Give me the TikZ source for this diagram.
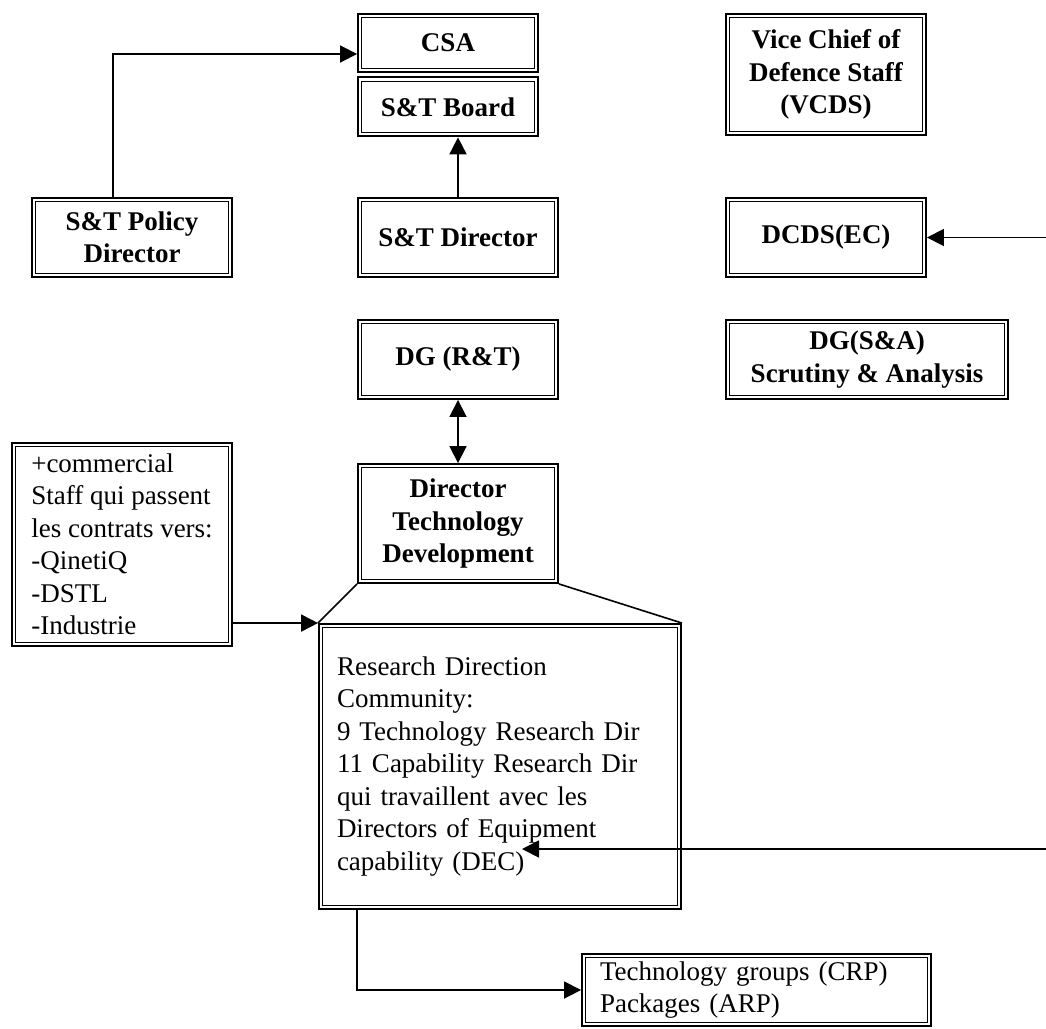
\documentclass[tikz,border=0pt]{standalone}
\usepackage{fontspec}
\setmainfont{Liberation Serif}
\usetikzlibrary{arrows.meta,positioning}

\begin{document}
\begin{tikzpicture}[
                x=1pt, y=-1pt,
                font=\fontsize{27}{32.5}\selectfont,
                frame/.style={
                        draw, line width=1.9pt,
                        path picture={
                                \draw[line width=0.9pt]
                                ([shift={(3.6pt,-3.6pt)}]path picture bounding box.north west)
                                rectangle ([shift={(-3.6pt,3.6pt)}]path picture bounding box.south east);
                            }
                    },
                unit/.style={
                        frame, align=center, inner sep=3pt,
                        font=\fontsize{27}{32.5}\selectfont\bfseries
                    },
                note/.style={
                        frame, align=left, inner xsep=17pt, inner ysep=3pt
                    },
                arr/.style={-{Triangle[length=17pt,width=17pt]}, line width=1.8pt},
                arrboth/.style={{Triangle[length=17pt,width=17pt]}-{Triangle[length=17pt,width=17pt]}, line width=1.8pt},
                link/.style={line width=1.6pt}
                ]
                \useasboundingbox (0,0) rectangle (1046,1028);

                % top row
                \node[unit, minimum width=180pt, minimum height=58pt] (csa) at (448,43) {CSA};
                \node[unit, minimum width=180pt, minimum height=59pt, below=3.5pt of csa] (board) {S\&T Board};
                \node[unit, minimum width=200pt, minimum height=121pt] (vcds) at (826,74.5) {Vice Chief of\\Defence Staff\\(VCDS)};

                % second row
                \node[unit, minimum width=200pt, minimum height=79pt] (policy) at (132,237.5) {S\&T Policy\\Director};
                \node[unit, minimum width=200pt, minimum height=79pt] (stdir) at (458,237.5) {S\&T Director};
                \node[unit, minimum width=200pt, minimum height=79pt] (dcds) at (826,237.5) {DCDS(EC)};

                % third row
                \node[unit, minimum width=200pt, minimum height=79pt] (dgrt) at (458,359.5) {DG (R\&T)};
                \node[unit, minimum width=282pt, minimum height=79pt] (dgsa) at (867,359.5) {DG(S\&A)\\Scrutiny \& Analysis};

                \node[unit, minimum width=200pt, minimum height=119pt] (dtd) at (458,523.5) {Director\\Technology\\Development};
                \node[note, inner xsep=3pt, minimum width=220pt, minimum height=203pt] (commercial) at (122,544.5)
                        {+commercial\\Staff qui passent\\les contrats vers:\\-QinetiQ\\-DSTL\\-Industrie};

                \node[note, inner xsep=18pt, text width=326pt, minimum height=285pt] (rdc) at (500,766.5)
                        {Research Direction\\Community:\\9 Technology Research Dir\\11 Capability Research Dir\\qui travaillent avec les\\Directors of Equipment\\capability (DEC)};
                \node[note, inner xsep=18pt, text width=313pt, minimum height=72pt] (tgroups) at (756.5,990)
                        {Technology groups (CRP)\\Packages (ARP)};

                \coordinate (dcdsin) at (1046,237.5);
                \coordinate (decin) at (1046,849);
                \coordinate (dec) at (522,849);

                \draw[arr] ([xshift=-19pt]policy.north) |- ([yshift=-11pt]csa.west);
                \draw[arr] (stdir.north) -- (stdir.north |- board.south);
                \draw[arr] (dcdsin) -- (dcds.east);
                \draw[arrboth] (dgrt) -- (dtd);
                \draw[arr] (commercial.east |- rdc.north west) -- (rdc.north west);
                \draw[link] (dtd.south west) -- (rdc.north west);
                \draw[link] (dtd.south east) -- (rdc.north east);
                \draw[arr] (decin) -- (dec);
                \draw[arr] ([xshift=39pt]rdc.south west) |- (tgroups.west);
            \end{tikzpicture}
\end{document}
